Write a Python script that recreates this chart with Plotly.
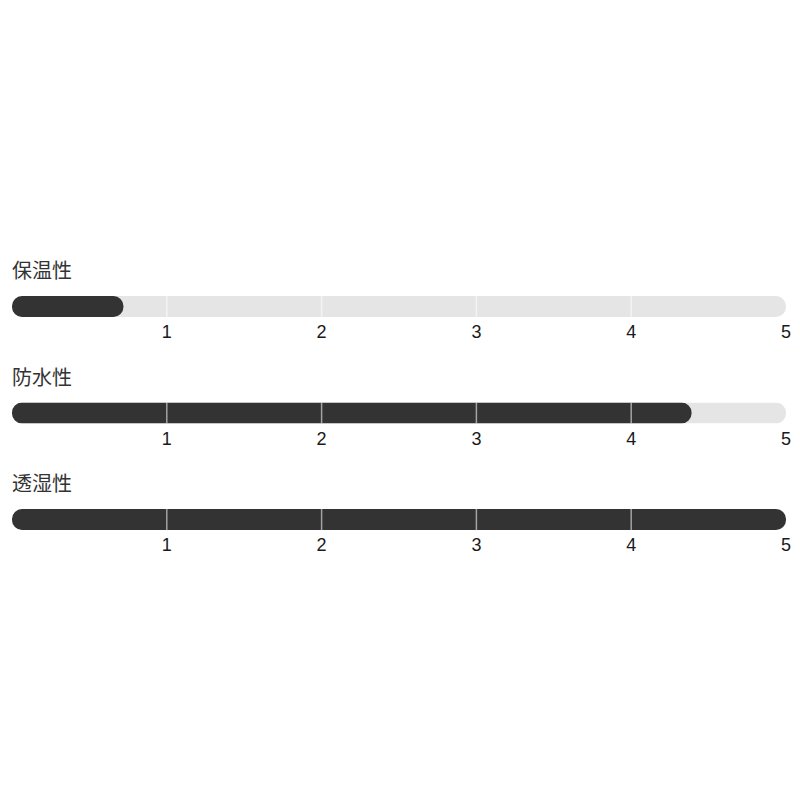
import plotly.graph_objects as go

# rating data
labels = ["保温性", "防水性", "透湿性"]
values = [0.72, 4.39, 5.0]
scale_max = 5
tick_vals = [1, 2, 3, 4, 5]
tick_text = ["1", "2", "3", "4", "5"]

track_color = "#e5e5e5"
fill_color = "#333333"

# pixel rows of the bars (page has 8px body margin, so shifted up)
bar_tops = [288, 394.5, 501]
bar_h = 21
H = 800

fig = go.Figure()

layout = dict(
    width=800, height=800,
    margin=dict(l=3.5, r=22, t=0, b=0),
    paper_bgcolor="white", plot_bgcolor="white",
    barmode="overlay", showlegend=False,
    font=dict(family="Liberation Sans, Arial", color="#222"),
    annotations=[],
)

for i, (lab, val) in enumerate(zip(labels, values)):
    n = "" if i == 0 else str(i + 1)
    xa, ya = "x" + n, "y" + n
    # grey track then the dark filled part, rounded pills
    for v, c in ((scale_max, track_color), (val, fill_color)):
        fig.add_trace(go.Bar(
            x=[v], y=[0], base=[0], orientation="h", width=1,
            marker=dict(color=c, line=dict(width=0), cornerradius=bar_h / 2),
            xaxis=xa, yaxis=ya, hoverinfo="skip", showlegend=False,
        ))

    # divider lines at the inner ticks
    xs, ys = [], []
    for t in tick_vals[:-1]:
        xs += [t, t, None]
        ys += [-0.5, 0.5, None]
    fig.add_trace(go.Scatter(
        x=xs, y=ys, mode="lines", xaxis=xa, yaxis=ya,
        line=dict(color="rgba(255,255,255,0.55)", width=1.5),
        hoverinfo="skip", showlegend=False,
    ))

    top = bar_tops[i]
    dom = [1 - (top + bar_h) / H, 1 - top / H]
    layout["xaxis" + n] = dict(
        range=[0, scale_max], domain=[0, 1], anchor=ya,
        tickvals=tick_vals, ticktext=tick_text,
        showgrid=False, zeroline=False, showline=False,
        ticks="", ticklabelstandoff=2,
        tickfont=dict(size=18, color="#1a1a1a"),
        fixedrange=True,
    )
    layout["yaxis" + n] = dict(
        range=[-0.5, 0.5], domain=dom, anchor=xa,
        visible=False, fixedrange=True,
    )
    layout["annotations"].append(dict(
        text=lab, x=0, xref="x" + n + " domain", xanchor="left", xshift=-2,
        y=1, yref="y" + n + " domain", yanchor="bottom", yshift=10,
        showarrow=False,
        font=dict(family="Noto Sans CJK JP", size=20, color="#333"),
    ))

fig.update_layout(**layout)
fig.write_html("out.html")
